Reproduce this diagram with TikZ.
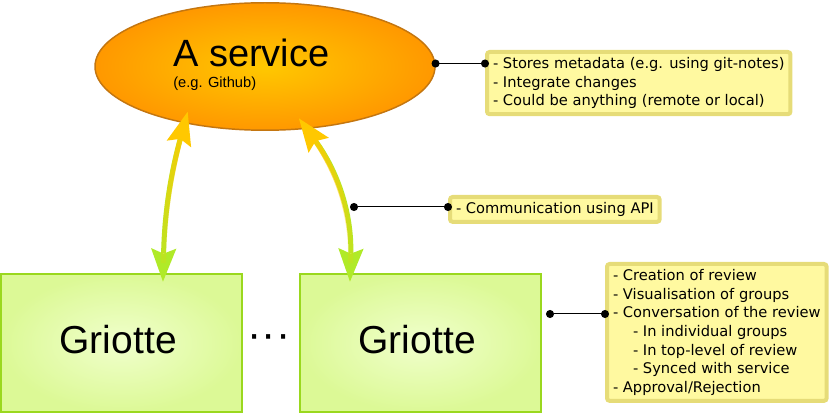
\documentclass[tikz,border=0pt]{standalone}
\usepackage{fontspec}
\newfontfamily\arialfont{Liberation Sans}
\newfontfamily\dejafont{DejaVu Sans}
\usetikzlibrary{shapes.geometric,arrows.meta,fadings}

\definecolor{svcinner}{RGB}{255,200,0}
\definecolor{svcouter}{RGB}{255,152,0}
\definecolor{svcborder}{RGB}{196,118,16}
\definecolor{grinner}{RGB}{240,255,204}
\definecolor{grouter}{RGB}{220,249,150}
\definecolor{grborder}{RGB}{154,216,30}
\definecolor{notefill}{RGB}{255,249,160}
\definecolor{notebdr}{RGB}{230,220,120}
\definecolor{arrowgold}{RGB}{255,200,0}
\definecolor{arrowlime}{RGB}{176,234,40}

\tikzfading[name=fade down, top color=transparent!0, bottom color=transparent!100]

\tikzset{
  servicebox/.style={ellipse, draw=svcborder, line width=1.1pt, inner color=svcinner, outer color=svcouter,
    minimum width=255pt, minimum height=95.6pt, inner sep=0pt},
  griottebox/.style={rectangle, draw=grborder, line width=1.5pt, inner color=grinner, outer color=grouter,
    minimum width=180.75pt, minimum height=103.5pt, text depth=6pt, font=\arialfont\fontsize{29.25}{34}\selectfont},
  notebox/.style={rectangle, draw=notebdr, fill=notefill, line width=3pt, rounded corners=2pt, align=left,
    inner xsep=4.5pt, inner ysep=4pt, anchor=north west, font=\dejafont\fontsize{11}{14}\selectfont},
  pinline/.style={line width=0.75pt, shorten <=-3pt, shorten >=-3pt, {Circle[length=6pt]}-{Circle[length=6pt]}},
  apiarrow/.style={line width=3.75pt, draw=arrowlime,
    {Stealth[length=25pt,width=19pt,inset=4pt,line width=0pt,color=arrowgold]}-{Stealth[length=25pt,width=19pt,inset=4pt,line width=0pt,color=arrowlime]}},
  apifade/.style={line width=3.75pt, draw=arrowgold, path fading=fade down, shorten <=14pt, shorten >=14pt},
}

\begin{document}
\begin{tikzpicture}[x=0.75pt,y=0.75pt,yscale=-1,xscale=1]
	\useasboundingbox (0,0) rectangle (832,413);

	%Service ellipse
	\node[servicebox] (svc) at (265,66.5) {};
	% Text Node
	\node[anchor=base west, inner sep=0pt, font=\arialfont\fontsize{28.5}{34}\selectfont] (svcname) at (173,67) {A service};
	% Text Node
	\node[anchor=base west, inner sep=0pt, font=\arialfont\fontsize{11}{13}\selectfont] (svcexample) at (173,88) {(e.g. Github)};

	%Griotte boxes
	\node[griottebox] (griotte1) at (121.5,343) {Griotte\hspace*{5pt}};
	\node[griottebox] (griotte2) at (420.5,343) {Griotte\hspace*{5pt}};
	% Text Node
	\node[inner sep=0pt, font=\arialfont\fontsize{32}{36}\selectfont] (between) at (269,342) {···};

	%Curve Lines
	\draw[apiarrow] ([xshift=-58pt,yshift=34pt]svc.center) to[bend left=7] ([xshift=31.1pt,yshift=6.5pt]griotte1.north);
	\draw[apifade] ([xshift=-58pt,yshift=34pt]svc.center) to[bend left=7] ([xshift=31.1pt,yshift=6.5pt]griotte1.north);
	\draw[apiarrow] ([xshift=25.5pt,yshift=39pt]svc.center) to[bend right=19] ([xshift=-52.9pt,yshift=6.5pt]griotte2.north);
	\draw[apifade] ([xshift=25.5pt,yshift=39pt]svc.center) to[bend right=19] ([xshift=-52.9pt,yshift=6.5pt]griotte2.north);

	%Notes
	\node[notebox] (svcinfo) at (485,50) {- Stores metadata (e.g. using git-notes)\\- Integrate changes\\- Could be anything (remote or local)};
	\node[notebox] (apiinfo) at (448,195) {- Communication using API};
	\node[notebox] (reviewinfo) at (605,262) {- Creation of review\\- Visualisation of groups\\- Conversation of the review\\
		\hspace*{15pt}- In individual groups\\\hspace*{15pt}- In top-level of review\\\hspace*{15pt}- Synced with service\\- Approval/Rejection};

	%Straight Lines
	\coordinate (apipin) at (354,207);
	\coordinate (reviewpin) at (550,314);
	\draw[pinline] (svc.1) -- (svc.1 -| svcinfo.west);
	\draw[pinline] (apipin) -- (apipin -| apiinfo.west);
	\draw[pinline] (reviewpin) -- (reviewpin -| reviewinfo.west);

\end{tikzpicture}
\end{document}
